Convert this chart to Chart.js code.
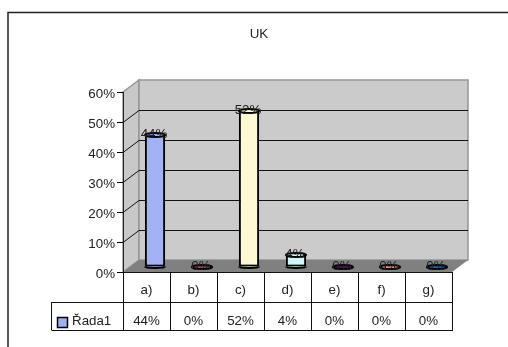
<!DOCTYPE html>
<html>
<head>
<meta charset="utf-8">
<title>UK</title>
<script src="https://cdn.jsdelivr.net/npm/chart.js@4/dist/chart.umd.min.js"></script>
<style>
  html, body { margin: 0; padding: 0; background: #fff; overflow: hidden; }
  #wrap { position: relative; width: 508px; height: 347px; }
</style>
</head>
<body>
<div id="wrap"><canvas id="ukChart" width="508" height="347"></canvas></div>
<script>
// Chart data
var chartTitle = 'UK';
var seriesName = 'Řada1';
var categories = ['a)', 'b)', 'c)', 'd)', 'e)', 'f)', 'g)'];
var seriesValues = [44, 0, 52, 4, 0, 0, 0];
var yTicks = [0, 10, 20, 30, 40, 50, 60];
var barColors = ['#a2b2f4', '#a03a6a', '#fdf9d2', '#cdf8fa', '#660066', '#ff8080', '#0066cc'];
var barShades = ['#8a9bdf', '#7d2c52', '#e8e2b8', '#a8dde0', '#4d004d', '#d96c6c', '#004f9e'];
var legendColor = '#9fafef';

var fontName = '"Liberation Sans", Arial, sans-serif';
var textColor = '#222';
var depthX = 16, depthY = 12;   // 3D box offset
var barOffX = 8.5, barOffY = 5; // bars stand in the middle of the floor

function pct(v) { return v + '%'; }

// Walls, floor and gridlines behind the bars
var wallsPlugin = {
    id: 'walls',
    beforeDraw: function(chart) {
        var c = chart.ctx, a = chart.chartArea, y = chart.scales.y;
        c.save();
        c.fillStyle = '#fff';
        c.fillRect(0, 0, chart.width, chart.height);

        // outer frame, cut off by the page
        c.strokeStyle = '#222';
        c.lineWidth = 1.5;
        c.beginPath();
        c.moveTo(8, 347); c.lineTo(8, 12.5); c.lineTo(508, 12.5);
        c.stroke();

        // side wall
        c.fillStyle = '#c8c8c8';
        c.beginPath();
        c.moveTo(a.left, a.top); c.lineTo(a.left + depthX, a.top - depthY);
        c.lineTo(a.left + depthX, a.bottom - depthY); c.lineTo(a.left, a.bottom);
        c.closePath(); c.fill();
        c.strokeStyle = '#969696'; c.lineWidth = 1.5; c.stroke();

        // back wall
        c.fillStyle = '#cbcbcb';
        c.fillRect(a.left + depthX, a.top - depthY, a.right - a.left, a.bottom - a.top);
        c.strokeRect(a.left + depthX, a.top - depthY, a.right - a.left, a.bottom - a.top);

        // floor
        c.fillStyle = '#808080';
        c.beginPath();
        c.moveTo(a.left, a.bottom); c.lineTo(a.left + depthX, a.bottom - depthY);
        c.lineTo(a.right + depthX, a.bottom - depthY); c.lineTo(a.right, a.bottom);
        c.closePath(); c.fill();

        // gridlines across side wall and back wall
        c.strokeStyle = '#111'; c.lineWidth = 1;
        yTicks.forEach(function(t) {
            if (t === 0 || t === 60) return;
            var py = Math.round(y.getPixelForValue(t)) + 0.5;
            c.beginPath();
            c.moveTo(a.left, py); c.lineTo(a.left + depthX, py - depthY);
            c.lineTo(a.right + depthX, py - depthY);
            c.stroke();
        });
        c.restore();
    },
    beforeDatasetsDraw: function(chart) {
        chart.ctx.save();
        chart.ctx.translate(barOffX, -barOffY);
    },
    afterDatasetsDraw: function(chart) {
        var c = chart.ctx;
        var bars = chart.getDatasetMeta(0).data;
        // round ends of the cylinders
        bars.forEach(function(bar, i) {
            var rx = bar.width / 2;
            c.lineWidth = 2;
            c.strokeStyle = '#000';
            c.fillStyle = barColors[i];
            c.beginPath();
            c.ellipse(bar.x, bar.base, rx, 1.5, 0, 0, Math.PI);
            c.fill(); c.stroke();
            c.beginPath();
            c.ellipse(bar.x, bar.y, rx, 2, 0, 0, Math.PI * 2);
            c.fill(); c.stroke();
        });
        c.restore();

        // value labels sit right on the bar tops
        c.save();
        c.font = '13.33px ' + fontName;
        c.fillStyle = textColor;
        c.textAlign = 'center';
        c.textBaseline = 'middle';
        bars.forEach(function(bar, i) {
            c.fillText(pct(seriesValues[i]), bar.x + barOffX - 1, bar.y - barOffY - 1);
        });
        c.restore();
    },
    afterDraw: function(chart) {
        var c = chart.ctx, a = chart.chartArea, x = chart.scales.x;
        var rowTop = a.bottom, rowMid = rowTop + 30, rowEnd = rowMid + 28, legendLeft = 51.5;
        var i;
        c.save();
        c.font = '13.33px ' + fontName;
        c.textBaseline = 'middle';

        // data table lines
        c.strokeStyle = '#111'; c.lineWidth = 1;
        c.beginPath();
        c.moveTo(a.left, rowTop + 0.5); c.lineTo(a.right, rowTop + 0.5);
        c.moveTo(legendLeft, rowMid + 0.5); c.lineTo(a.right, rowMid + 0.5);
        c.moveTo(legendLeft, rowEnd + 0.5); c.lineTo(a.right, rowEnd + 0.5);
        c.moveTo(legendLeft, rowMid); c.lineTo(legendLeft, rowEnd);
        for (i = 0; i <= categories.length; i++) {
            var lx = Math.round(a.left + (a.right - a.left) * i / categories.length) + 0.5;
            c.moveTo(lx, rowTop); c.lineTo(lx, rowEnd + 1);
        }
        c.stroke();

        // value row
        c.fillStyle = textColor;
        c.textAlign = 'center';
        seriesValues.forEach(function(v, k) {
            c.fillText(pct(v), x.getPixelForValue(k), rowMid + 19);
        });

        // legend key and series name
        c.fillStyle = legendColor;
        c.fillRect(57.5, 317.5, 10, 10);
        c.strokeStyle = '#000'; c.lineWidth = 1.5;
        c.strokeRect(57.5, 317.5, 10, 10);
        c.fillStyle = textColor;
        c.textAlign = 'left';
        c.fillText(seriesName, 72, rowMid + 19);

        // chart title
        c.textAlign = 'center';
        c.fillText(chartTitle, 259, 34);
        c.restore();
    }
};

new Chart(document.getElementById('ukChart'), {
    type: 'bar',
    data: {
        labels: categories,
        datasets: [{
            label: seriesName,
            data: seriesValues,
            backgroundColor: function(context) {
                var chart = context.chart, i = context.dataIndex;
                if (!chart.chartArea || !chart.scales.x) return barColors[i];
                var cx = chart.scales.x.getPixelForValue(i) + barOffX;
                var g = chart.ctx.createLinearGradient(cx - 10, 0, cx + 10, 0);
                g.addColorStop(0, barColors[i]);
                g.addColorStop(0.55, barColors[i]);
                g.addColorStop(1, barShades[i]);
                return g;
            },
            borderColor: '#000',
            borderWidth: 2,
            borderSkipped: false,
            barPercentage: 0.43,
            categoryPercentage: 1,
            clip: false
        }]
    },
    options: {
        responsive: false,
        animation: false,
        layout: { padding: { left: 53, right: 56, top: 92, bottom: 45 } },
        plugins: {
            legend: { display: false },
            title: { display: false },
            tooltip: { enabled: false }
        },
        scales: {
            x: {
                grid: { display: false },
                border: { display: false },
                ticks: {
                    color: textColor,
                    font: { family: fontName, size: 13.33 },
                    padding: 2,
                    maxRotation: 0
                },
                afterFit: function(scale) {
                    scale.height = 30;
                    scale.paddingLeft = 0;
                    scale.paddingRight = 0;
                }
            },
            y: {
                min: 0,
                max: 60,
                afterBuildTicks: function(scale) {
                    scale.ticks = yTicks.map(function(t) { return { value: t }; });
                },
                grid: { drawOnChartArea: false, drawTicks: true, tickLength: 6, color: '#000' },
                border: { display: true, color: '#222', width: 1 },
                ticks: {
                    color: textColor,
                    // empty first line pushes the label a bit below its tick mark
                    font: { family: fontName, size: 13.33, lineHeight: '5px' },
                    padding: 2,
                    callback: function(v) { return ['', pct(v)]; }
                },
                afterFit: function(scale) {
                    scale.width = 70;
                    scale.paddingTop = 0;
                    scale.paddingBottom = 0;
                }
            }
        }
    },
    plugins: [wallsPlugin]
});
</script>
</body>
</html>
